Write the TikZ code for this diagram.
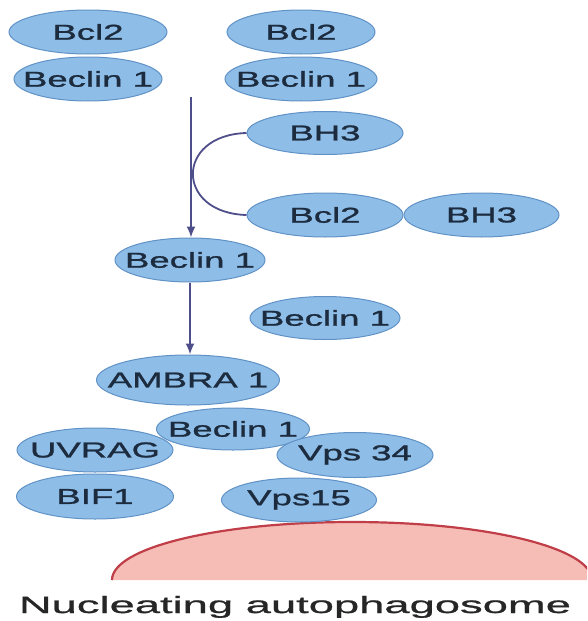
\documentclass[tikz,border=0pt]{standalone}
\usepackage{fontspec}
\setmainfont{Liberation Sans}
\newfontfamily\protfont[FakeStretch=1.7, FakeBold=1.2]{Liberation Sans}
\newfontfamily\capfont[FakeStretch=1.93, FakeBold=1]{Liberation Sans}
\usetikzlibrary{shapes.geometric, arrows.meta, positioning}

\definecolor{protblue}{RGB}{142,189,232}
\definecolor{protedge}{RGB}{96,146,198}
\definecolor{protink}{RGB}{28,44,62}
\definecolor{linkcol}{RGB}{78,78,138}
\definecolor{membfill}{RGB}{246,188,182}
\definecolor{membedge}{RGB}{192,62,72}

\tikzset{
  prot/.style={draw=protedge, line width=1pt, ellipse, fill=protblue, minimum width=152pt, minimum height=44pt, inner xsep=-45pt, inner ysep=0pt, text=protink, font=\protfont\fontsize{21.5}{22}\selectfont},
  link/.style={draw=linkcol, line width=1.8pt},
}

\begin{document}
\begin{tikzpicture}[x=1pt, y=-1pt]
    \useasboundingbox (0,0) rectangle (587,621);

    % membrane
    \begin{scope}
        \clip (0,0) rectangle (587,621);
        \fill[membfill] (112,580) .. controls (112,548) and (217,522) .. (352,522) .. controls (487,522) and (592,548) .. (592,580) -- cycle;
        \draw[membedge, line width=2.2pt] (112,580) .. controls (112,548) and (217,522) .. (352,522) .. controls (487,522) and (592,548) .. (592,580);
    \end{scope}

    % complexes at the top
    \node[prot, minimum width=158pt] (bcl2a) at (88,32) {Bcl2};
    \node[prot, minimum width=148pt, below=2pt of bcl2a] (beca) {Beclin 1};
    \node[prot, minimum width=148pt] (bcl2b) at (301,32) {Bcl2};
    \node[prot, below=2pt of bcl2b] (becb) {Beclin 1};

    \node[prot, minimum width=156pt, minimum height=43pt] (bh3a) at (325,133) {BH3};
    \node[prot, minimum width=156pt] (bcl2m) at (325,215) {Bcl2};
    \node[prot, minimum width=155pt, right=0pt of bcl2m] (bh3b) {BH3};

    \node[prot, minimum width=150pt] (becm) at (190,260) {Beclin 1};
    \node[prot, minimum width=150pt, minimum height=43pt] (becf) at (325,318) {Beclin 1};

    % nucleation complex
    \node[prot, minimum width=183pt, minimum height=50pt] (ambra) at (188,380) {AMBRA 1};
    \node[prot, minimum width=153pt, minimum height=42pt] (becc) at (233,429) {Beclin 1};
    \node[prot, minimum width=156pt] (uvrag) at (95,450) {UVRAG};
    \node[prot, minimum width=157pt, minimum height=45pt, below=1pt of uvrag] (bif) {BIF1};
    \node[prot, minimum width=156pt, minimum height=45pt] (vps34) at (355,455) {Vps 34};
    \node[prot, minimum width=155pt] (vps15) at (299,500) {Vps15};

    \coordinate (release) at (191,97);
    \draw[link, -{Latex[length=11pt,width=9pt]}] (release) -- (release |- becm.north);
    \draw[link] (bh3a.west) .. controls (175,135) and (175,213) .. (bcl2m.west);
    \draw[link, -{Latex[length=11pt,width=9pt]}] (becm.south) -- (becm.south |- ambra.north);

    \node[font=\capfont\fontsize{23.5}{24}\selectfont, text=black!85, anchor=base] (caption) at (295,613) {Nucleating autophagosome};
\end{tikzpicture}
\end{document}
